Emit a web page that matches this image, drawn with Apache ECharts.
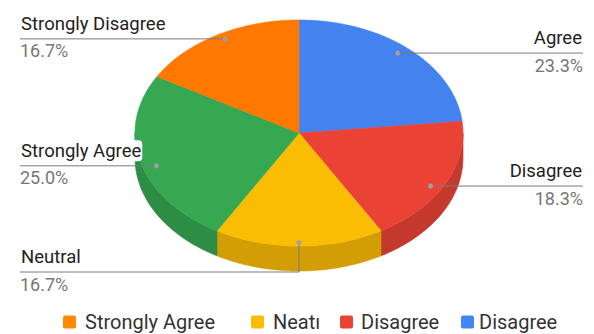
<!DOCTYPE html>
<html><head><meta charset="utf-8">
<script src="https://cdn.jsdelivr.net/npm/echarts@6/dist/echarts.min.js"></script>
<style>html,body{margin:0;padding:0;background:#fff}#c{width:594px;height:334px}</style>
</head><body><div id="c"></div>
<script>
// ---- data ----
const categories = ['Agree', 'Disagree', 'Neutral', 'Strongly Agree', 'Strongly Disagree'];
const values = [14, 11, 10, 15, 10];
const sliceColors = ['#4383F0', '#EA4335', '#FBBC04', '#37A852', '#FF7800'];
const legendLabels = ['Strongly Agree', 'Neatı', 'Disagree', 'Disagree'];
const legendColors = ['#FF8A00', '#FBBC04', '#EA4335', '#4285F4'];

// ---- layout ----
const W = 594;
const RX = 164, RY = 113, THICK = 25;
const CX = 299, TOPY = 20;
const legendSquareX = [63, 251, 340, 461];
const legendTextX = [85, 273, 361, 479];
const LEGEND_Y = 322;

const total = values.reduce((a, b) => a + b, 0);
const starts = [];
let acc = 0;
values.forEach(v => { starts.push(acc); acc += v; });
const T = 2 * THICK / (2 * RY);

function darker(hex, f) {
  const n = parseInt(hex.slice(1), 16);
  const r = Math.round(((n >> 16) & 255) * f), g = Math.round(((n >> 8) & 255) * f), b = Math.round((n & 255) * f);
  return 'rgb(' + r + ',' + g + ',' + b + ')';
}

function renderItem(params, api) {
  const i = params.dataIndex;
  const v = api.value(1);
  const c = api.coord([0, 0]);
  const px = api.coord([1, 0])[0] - c[0];
  const py = c[1] - api.coord([0, 1])[1];
  const a0 = starts[i] / total * Math.PI * 2;
  const a1 = (starts[i] + v) / total * Math.PI * 2;
  const pt = (a, dy) => [c[0] + px * Math.sin(a), c[1] - py * Math.cos(a) + (dy || 0)];
  const arc = (s, e, dy) => {
    const n = Math.max(2, Math.ceil((e - s) / 0.01));
    const out = [];
    for (let k = 0; k <= n; k++) out.push(pt(s + (e - s) * k / n, dy));
    return out;
  };
  const color = sliceColors[i];
  const children = [];
  // side (front-facing part only)
  const s = Math.max(a0, Math.PI / 2), e = Math.min(a1, Math.PI * 1.5);
  if (s < e) {
    const pts = arc(s, e, 0).concat(arc(s, e, THICK).reverse());
    children.push({ type: 'polygon', z2: 1, shape: { points: pts },
      style: { fill: darker(color, 0.84), stroke: darker(color, 0.84), lineWidth: 0.6 } });
  }
  // top face
  children.push({ type: 'polygon', z2: 2, shape: { points: [c].concat(arc(a0, a1, 0)) },
    style: { fill: color, stroke: color, lineWidth: 0.6 } });
  // label
  const mid = (a0 + a1) / 2;
  const sn = Math.sin(mid), cs = Math.cos(mid);
  const ax = c[0] + 0.9 * px * sn;
  const ay = c[1] - 0.97 * py * cs + 6 * (1 - Math.abs(cs));
  const left = sn < 1e-9;
  const nearBottom = cs < -0.85;
  const lineY = nearBottom ? c[1] + py + THICK + 1 : ay;
  const edgeX = left ? 20 : W - 11;
  const linePts = nearBottom ? [[ax, ay], [ax, lineY], [edgeX, lineY]] : [[ax, ay], [edgeX, lineY]];
  children.push({ type: 'polyline', z2: 3, shape: { points: linePts },
    style: { stroke: '#7a7a7a', lineWidth: 1, fill: null } });
  children.push({ type: 'circle', z2: 4, shape: { cx: ax, cy: ay, r: 2.5 },
    style: { fill: '#a0a0a0' } });
  children.push({ type: 'text', z2: 5, x: edgeX, y: lineY - 15,
    style: { text: categories[i], fill: '#222', font: '18.5px Roboto', align: left ? 'left' : 'right',
      verticalAlign: 'middle', backgroundColor: '#fff', padding: [1, 1], borderRadius: 4 } });
  children.push({ type: 'text', z2: 5, x: edgeX, y: lineY + 12,
    style: { text: (v / total * 100).toFixed(1) + '%', fill: '#777', font: '18px Roboto',
      align: left ? 'left' : 'right', verticalAlign: 'middle' } });
  return { type: 'group', children: children };
}

const legendGraphics = [];
legendLabels.forEach((lab, k) => {
  legendGraphics.push({ type: 'rect', left: legendSquareX[k], top: LEGEND_Y - 6.5,
    shape: { width: 13, height: 13, r: 2 }, style: { fill: legendColors[k] } });
  legendGraphics.push({ type: 'text', x: legendTextX[k], y: LEGEND_Y,
    style: { text: lab, fill: '#333', font: '20px Roboto', verticalAlign: 'middle' } });
});

const chart = echarts.init(document.getElementById('c'), null, { renderer: 'svg' });
chart.setOption({
  animation: false,
  backgroundColor: '#fff',
  grid: { left: CX - RX, top: TOPY, width: 2 * RX, height: 2 * RY + THICK },
  xAxis: { type: 'value', min: -1, max: 1, show: false },
  yAxis: { type: 'value', min: -1 - T, max: 1, show: false },
  series: [{
    type: 'custom',
    renderItem: renderItem,
    clip: false,
    data: values.map((v, i) => ({ name: categories[i], value: [i, v] }))
  }],
  graphic: legendGraphics
});
</script></body></html>
